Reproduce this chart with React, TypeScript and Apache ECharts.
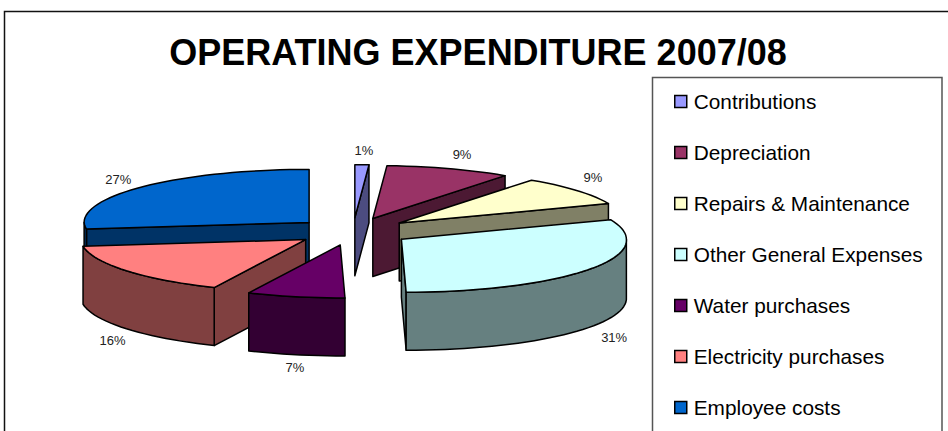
import React, { useEffect, useRef } from "react";
import * as echarts from "echarts";

// Operating expenditure shares, clockwise from twelve o'clock.
const categories = [
  "Contributions",
  "Depreciation",
  "Repairs & Maintenance",
  "Other General Expenses",
  "Water purchases",
  "Electricity purchases",
  "Employee costs",
];
const shares = [1, 9, 9, 31, 7, 16, 27];
const topColors = ["#9999FF", "#993366", "#FFFFCC", "#CCFFFF", "#660066", "#FF8080", "#0066CC"];
const wallColors = ["#4C4C80", "#4C1933", "#808066", "#668080", "#330033", "#804040", "#003366"];

// Back slices are painted first so the nearer ones cover them.
const paintOrder = [6, 5, 4, 0, 1, 2, 3];

// Pie projection, in pixels.
const CX = 353;
const CY = 231.5;
const RX = 225;
const RY = 53;
const DEPTH = 58;
const EXPLODE = 0.26;
const FRONT_SHEAR = 0.09;

// Data label offsets from the rim point at each slice's middle angle.
const labelNudge = [
  [2, -14],
  [13, -14],
  [16, -13],
  [24, 10],
  [-1, 13],
  [-14, 12],
  [-22, -8],
];

const total = shares.reduce((a, b) => a + b, 0);
const startShare = shares.map((_, i) => shares.slice(0, i).reduce((a, b) => a + b, 0));
const toAngle = (share: number) => (share / total) * 2 * Math.PI;

// Point on the pie's ellipse relative to a slice's apex; angle runs clockwise from the top.
function rim(angle: number): [number, number] {
  const dy = -Math.cos(angle) * RY;
  return [Math.sin(angle) * RX + FRONT_SHEAR * Math.max(dy, 0), dy];
}

function arcPoints(a0: number, a1: number, ox: number, oy: number) {
  const n = Math.max(1, Math.ceil((a1 - a0) / (Math.PI / 72)));
  const pts: number[][] = [];
  for (let k = 0; k <= n; k++) {
    const p = rim(a0 + ((a1 - a0) * k) / n);
    pts.push([ox + p[0], oy + p[1]]);
  }
  return pts;
}

function sliceChildren(index: number) {
  const a0 = toAngle(startShare[index]);
  const a1 = toAngle(startShare[index] + shares[index]);
  const mid = (a0 + a1) / 2;
  const ox = CX + Math.sin(mid) * RX * EXPLODE;
  const oy = CY - Math.cos(mid) * RY * EXPLODE;
  const stroke = { stroke: "#000", lineWidth: 1.5, lineJoin: "round" };
  const wallStyle = { fill: wallColors[index], ...stroke };
  const children: any[] = [];
  const m = rim(mid);

  // Cut faces, only where the slice's top lies above the cut edge.
  [a0, a1].forEach((a) => {
    const p = rim(a);
    if (Math.abs(p[0]) < 0.01) return;
    if ((p[1] / p[0]) * m[0] <= m[1]) return;
    children.push({
      type: "polygon",
      shape: {
        points: [
          [ox, oy],
          [ox + p[0], oy + p[1]],
          [ox + p[0], oy + p[1] + DEPTH],
          [ox, oy + DEPTH],
        ],
      },
      style: wallStyle,
    });
  });

  // Outer wall on the part of the rim that faces the viewer.
  const w0 = Math.max(a0, Math.PI / 2);
  const w1 = Math.min(a1, (Math.PI * 3) / 2);
  if (w1 > w0) {
    const upper = arcPoints(w0, w1, ox, oy);
    const lower = upper.map(([x, y]) => [x, y + DEPTH]).reverse();
    children.push({ type: "polygon", shape: { points: [...upper, ...lower] }, style: wallStyle });
  }

  // Top face.
  children.push({
    type: "polygon",
    shape: { points: [[ox, oy], ...arcPoints(a0, a1, ox, oy)] },
    style: { fill: topColors[index], ...stroke },
  });

  // Percentage label.
  const front = mid > Math.PI / 2 && mid < (Math.PI * 3) / 2;
  children.push({
    type: "text",
    style: {
      text: `${shares[index]}%`,
      x: ox + m[0] + labelNudge[index][0],
      y: oy + m[1] + (front ? DEPTH : 0) + labelNudge[index][1],
      fill: "#222",
      font: '13px "Liberation Sans", Arial, sans-serif',
      align: "center",
      verticalAlign: "middle",
    },
  });
  return children;
}

export default function App() {
  const ref = useRef<HTMLDivElement>(null);

  useEffect(() => {
    const chart = echarts.init(ref.current!, undefined, { renderer: "svg" });
    chart.setOption({
      animation: false,
      backgroundColor: "#fff",
      title: {
        text: "OPERATING EXPENDITURE 2007/08",
        left: 473,
        top: 29,
        textAlign: "center",
        textStyle: {
          color: "#000",
          fontFamily: '"Liberation Sans", Arial, sans-serif',
          fontWeight: "bold",
          fontSize: 36,
        },
      },
      legend: {
        orient: "vertical",
        left: 674,
        top: 91,
        padding: 0,
        data: categories,
        selectedMode: false,
        icon: "rect",
        itemWidth: 12,
        itemHeight: 12,
        itemGap: 30,
        itemStyle: { borderColor: "#000", borderWidth: 1.5 },
        textStyle: {
          color: "#000",
          fontFamily: '"Liberation Sans", Arial, sans-serif',
          fontSize: 20.8,
          padding: [0, 0, 0, 2],
        },
      },
      graphic: [
        {
          type: "rect",
          silent: true,
          z: -1,
          shape: { x: 4.5, y: 11.5, width: 960, height: 440 },
          style: { fill: "none", stroke: "#111", lineWidth: 1.5 },
        },
        {
          type: "rect",
          silent: true,
          z: -1,
          shape: { x: 652.5, y: 77.5, width: 289.5, height: 380 },
          style: { fill: "#fff", stroke: "#555", lineWidth: 1.5 },
        },
      ],
      series: paintOrder.map((index, rank) => ({
        type: "custom",
        name: categories[index],
        coordinateSystem: "none",
        z: 2 + rank,
        itemStyle: { color: topColors[index] },
        data: [shares[index]],
        renderItem: () => ({ type: "group", children: sliceChildren(index) }),
      })),
    });
    return () => chart.dispose();
  }, []);

  return (
    <div
      ref={ref}
      style={{ position: "absolute", left: 0, top: 0, width: 948, height: 431 }}
    />
  );
}
